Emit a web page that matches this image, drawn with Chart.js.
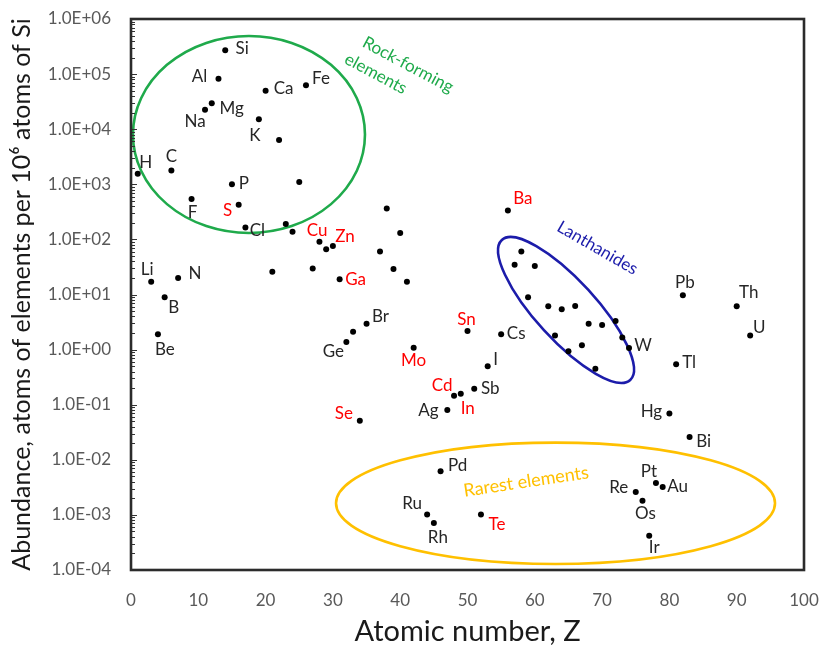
<!DOCTYPE html>
<html>
<head>
<meta charset="utf-8">
<script src="https://cdn.jsdelivr.net/npm/chart.js@4.4.0/dist/chart.umd.min.js"></script>
<style>
  html, body { margin: 0; padding: 0; background: #fff; }
  #wrap { width: 822px; height: 649px; }
</style>
</head>
<body>
<div id="wrap"><canvas id="abundanceChart" width="822" height="649"></canvas></div>
<script>
// Element data (atoms per 10^6 atoms of Si)
const symbols = ['H','Li','Be','B','C','N','F','Na','Mg','Al','Si','P','S','Cl','K','Ca',
  'Sc','Ti','V','Cr','Mn','Fe','Co','Ni','Cu','Zn','Ga','Ge','As','Se','Br',
  'Rb','Sr','Y','Zr','Nb','Mo','Ru','Rh','Pd','Ag','Cd','In','Sn','Sb','Te','I',
  'Cs','Ba','La','Ce','Pr','Nd','Sm','Eu','Gd','Tb','Dy','Ho','Er','Tm','Yb',
  'Hf','Ta','W','Re','Os','Ir','Pt','Au','Hg','Tl','Pb','Bi','Th','U'];
const atomicNumbers = [1,3,4,5,6,7,9,11,12,13,14,15,16,17,19,20,
  21,22,23,24,25,26,27,28,29,30,31,32,33,34,35,
  37,38,39,40,41,42,44,45,46,47,48,49,50,51,52,53,
  55,56,57,58,59,60,62,63,64,65,66,67,68,69,70,
  72,73,74,75,76,77,78,79,80,81,82,83,90,92];
const abundance = [1550,17,1.9,8.9,1780,20,540,22500,29500,82000,270000,1000,425,165,15200,50000,
  26,6400,190,138,1100,63000,29.5,91,66,76,19,1.38,2.1,0.051,2.95,
  60,365,29,131,17,1.08,0.00102,0.00071,0.0062,0.08,0.145,0.158,2.17,0.195,0.00102,0.5,
  1.9,336,34.5,60,8.9,33,6.1,1.8,5.4,0.93,6.2,1.2,2.95,0.45,2.8,
  3.3,1.65,1.07,0.0026,0.0018,0.00042,0.0038,0.0032,0.069,0.54,9.7,0.026,6.1,1.8];
const redElements = ['S','Cu','Zn','Ga','Se','Mo','Cd','In','Sn','Te','Ba'];

const xTicks = [0,10,20,30,40,50,60,70,80,90,100];
const yTicks = [1e-4,1e-3,1e-2,1e-1,1e0,1e1,1e2,1e3,1e4,1e5,1e6];

// where each element label sits relative to its dot (px); unlisted = no label
const labelOffsets = {
  H:[8,-11], Li:[-4,-12], Be:[7,15], B:[9,10], C:[0,-14], N:[17,-4], F:[1,13],
  Na:[-10,12], Mg:[20,5], Al:[-19,-2], Si:[17,-2], P:[12,-1], S:[-11,6], Cl:[12,3],
  K:[-4,16], Ca:[18,-2], Fe:[15,-7], Cu:[-9,-19], Zn:[12,-9], Ga:[16,0], Ge:[-13,10],
  Br:[14,-7], Se:[-16,-7], Mo:[0,13], Ru:[-15,-11], Rh:[4,14], Pd:[17,-6], Ag:[-19,0],
  Cd:[-12,-10], In:[7,15], Sn:[-1,-12], Sb:[16,0], Te:[16,10], I:[8,-7], Cs:[15,-1],
  Ba:[15,-12], W:[14,-2], Re:[-17,-5], Os:[3,13], Ir:[5,12], Pt:[-7,-11], Au:[15,-1],
  Hg:[-18,-2], Bi:[14,5], Tl:[13,-2], Pb:[2,-13], Th:[12,-14], U:[9,-8]
};

// group outlines: centre in data units, semi-axes in px, rotation in degrees
const groups = [
  { z: 17.53, v: 8020, rx: 116, ry: 98.5, rot: 0, color: '#1faa4b',
    text: ['Rock-forming', 'elements'], tz: 40.3, tv: 95000, trot: 28, size: 17 },
  { z: 64.64, v: 5.24, rx: 95, ry: 30, rot: 47.5, color: '#1c1caa',
    text: ['Lanthanides'], tz: 69.3, tv: 70, trot: 30, size: 17 },
  { z: 63.08, v: 0.001625, rx: 219.5, ry: 60.7, rot: 0, color: '#ffc000',
    text: ['Rarest elements'], tz: 58.7, tv: 0.0040, trot: -8.5, size: 18 }
];

const FONT = 'Lato, "Open Sans", sans-serif';

function sciLabel(v) {
  const e = Math.round(Math.log10(v));
  const s = e < 0 ? '-' : '+';
  return '1.0E' + s + String(Math.abs(e)).padStart(2, '0');
}

const points = atomicNumbers.map((z, i) => ({ x: z, y: abundance[i] }));

// outlines + box + minor ticks
const decorPlugin = {
  id: 'decor',
  beforeDatasetsDraw(chart) {
    const { ctx, scales: { x, y } } = chart;
    ctx.save();
    groups.forEach(g => {
      const cx = x.getPixelForValue(g.z);
      const cy = y.getPixelForValue(g.v);
      ctx.beginPath();
      ctx.ellipse(cx, cy, g.rx, g.ry, g.rot * Math.PI / 180, 0, Math.PI * 2);
      ctx.strokeStyle = g.color;
      ctx.lineWidth = 2.6;
      ctx.stroke();
      // group caption
      const tx = x.getPixelForValue(g.tz);
      const ty = y.getPixelForValue(g.tv);
      ctx.save();
      ctx.translate(tx, ty);
      ctx.rotate(g.trot * Math.PI / 180);
      ctx.fillStyle = g.color;
      ctx.font = g.size + 'px ' + FONT;
      ctx.textBaseline = 'middle';
      if (g.text.length === 1) {
        ctx.textAlign = 'center';
        ctx.fillText(g.text[0], 0, 0);
      } else {
        ctx.textAlign = 'left';
        ctx.fillText(g.text[0], -50, -12);
        ctx.fillText(g.text[1], -58, 11);
      }
      ctx.restore();
    });
    ctx.restore();
  },
  afterDatasetsDraw(chart) {
    const { ctx, chartArea: a, scales: { x, y } } = chart;
    ctx.save();
    // element labels
    ctx.font = '17px ' + FONT;
    ctx.textAlign = 'center';
    ctx.textBaseline = 'middle';
    symbols.forEach((sym, i) => {
      const off = labelOffsets[sym];
      if (!off) return;
      const px = x.getPixelForValue(atomicNumbers[i]);
      const py = y.getPixelForValue(abundance[i]);
      ctx.fillStyle = redElements.includes(sym) ? '#ff0000' : '#262626';
      ctx.fillText(sym, px + off[0], py + off[1]);
    });
    // log minor ticks on the y axis, pointing inside
    ctx.strokeStyle = '#333';
    ctx.lineWidth = 1;
    for (let d = -4; d < 6; d++) {
      for (let m = 1; m < 10; m++) {
        const py = Math.round(y.getPixelForValue(m * Math.pow(10, d))) + 0.5;
        ctx.beginPath();
        ctx.moveTo(a.left, py);
        ctx.lineTo(a.left + (m === 1 ? 6 : 4), py);
        ctx.stroke();
      }
    }
    // frame
    ctx.strokeStyle = '#2b2b2b';
    ctx.lineWidth = 2.6;
    ctx.strokeRect(a.left, a.top, a.right - a.left, a.bottom - a.top);
    ctx.restore();
  }
};

new Chart(document.getElementById('abundanceChart'), {
  type: 'scatter',
  data: {
    datasets: [{
      data: points,
      pointRadius: 3,
      pointHoverRadius: 3,
      pointBackgroundColor: '#000',
      pointBorderWidth: 0,
      showLine: false
    }]
  },
  options: {
    responsive: false,
    animation: false,
    devicePixelRatio: 1,
    layout: { padding: { top: 19, right: 18, left: 0, bottom: 0 } },
    plugins: { legend: { display: false }, tooltip: { enabled: false } },
    scales: {
      x: {
        type: 'linear',
        min: 0,
        max: 100,
        afterBuildTicks: s => { s.ticks = xTicks.map(v => ({ value: v })); },
        afterFit: s => { s.height = 79; s.paddingLeft = 0; s.paddingRight = 0; },
        grid: { display: false, drawTicks: false },
        border: { display: false },
        ticks: { color: '#595959', font: { family: FONT, size: 17 }, padding: 20, maxRotation: 0 },
        title: {
          display: true,
          text: 'Atomic number, Z',
          color: '#1a1a1a',
          font: { family: FONT, size: 29 },
          padding: { top: 0, bottom: 0 }
        }
      },
      y: {
        type: 'logarithmic',
        min: 1e-4,
        max: 1e6,
        afterBuildTicks: s => { s.ticks = yTicks.map(v => ({ value: v })); },
        afterFit: s => { s.width = 131; s.paddingTop = 0; s.paddingBottom = 0; },
        grid: { display: false, drawTicks: false },
        border: { display: false },
        ticks: {
          color: '#595959',
          font: { family: FONT, size: 17 },
          padding: 20,
          callback: v => sciLabel(v)
        },
        title: {
          display: true,
          text: 'Abundance, atoms of elements per 10⁶ atoms of Si',
          color: '#1a1a1a',
          font: { family: FONT, size: 25 },
          padding: { top: 7, bottom: 0 }
        }
      }
    }
  },
  plugins: [decorPlugin]
});
</script>
</body>
</html>
